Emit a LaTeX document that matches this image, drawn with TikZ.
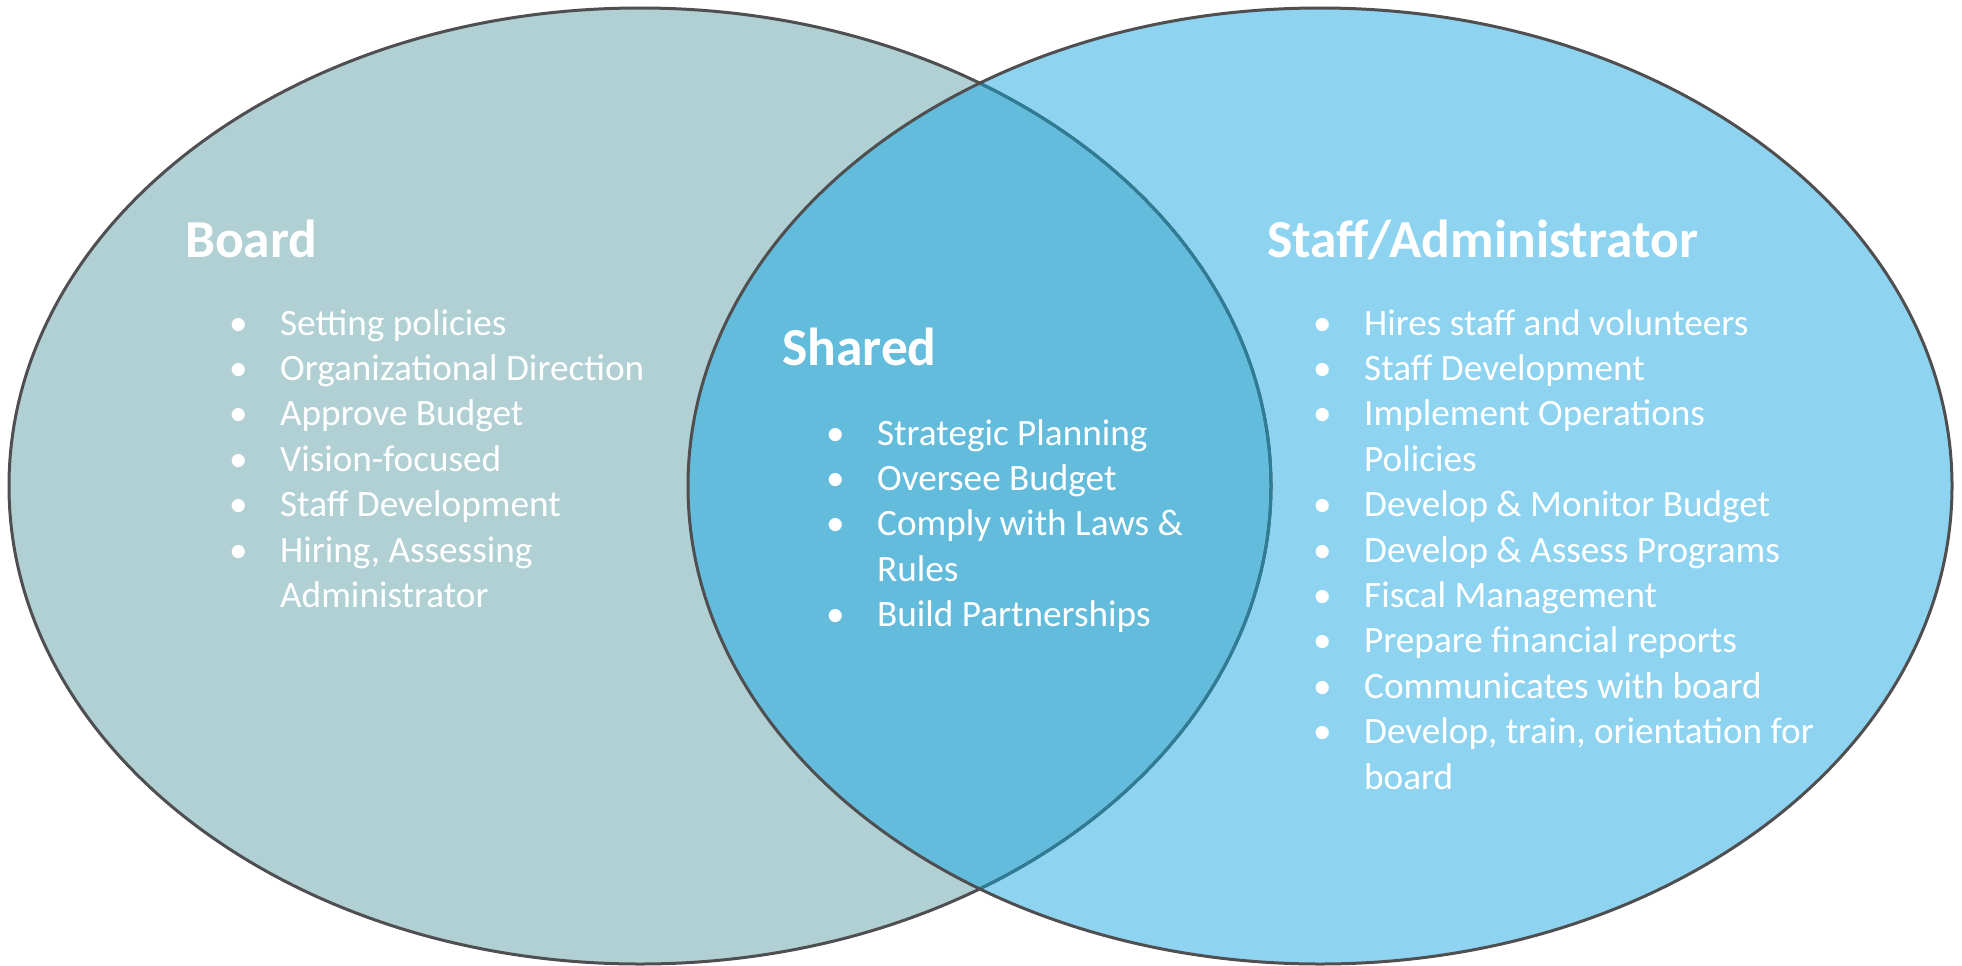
\documentclass[tikz,border=0pt]{standalone}
\usepackage{fontspec}
\setmainfont{Carlito}
\usepackage{array}

\definecolor{boardfill}{HTML}{B1D0D4}
\definecolor{stafffill}{HTML}{8ED4F0}
\definecolor{sharedfill}{HTML}{63BCDB}
\definecolor{rimgray}{HTML}{4F4F51}
\definecolor{rimteal}{HTML}{2E7D96}

\newcommand{\bulletrow}[1]{\textbullet & #1\\}
\newcommand{\wraprow}[1]{& #1\\}
\newenvironment{duties}{\begin{tabular}[t]{@{}p{51pt}@{}l@{}}}{\end{tabular}}

\begin{document}
\begin{tikzpicture}[x=1pt, y=-1pt, every node/.style={text=white, inner sep=0pt, anchor=base west}, heading/.style={font=\fontsize{53.5}{60}\selectfont\bfseries}, duty/.style={font=\fontsize{37.2}{45.4}\selectfont}, rim/.style={line width=3pt, draw=rimgray}]
	\useasboundingbox (0,0) rectangle (1962,966);
	% Circles of the diagram
	\fill[boardfill]	(640,486) ellipse [x radius=631, y radius=478];
	\fill[stafffill]	(1320,486) ellipse [x radius=632, y radius=478];
	\begin{scope}
		\clip (640,486) ellipse [x radius=631, y radius=478];
		\fill[sharedfill] (1320,486) ellipse [x radius=632, y radius=478];
	\end{scope}
	\draw[rim]	(640,486) ellipse [x radius=631, y radius=478];
	\begin{scope}
		\clip (1320,486) ellipse [x radius=632, y radius=478];
		\draw[rim, draw=rimteal] (640,486) ellipse [x radius=631, y radius=478];
	\end{scope}
	\draw[rim]	(1320,486) ellipse [x radius=632, y radius=478];
	% Specification of nodes (position, etc.)
	\node (BoardTitle)	[heading]	at (185,257)	{Board};
	\node (SharedTitle)	[heading]	at (782,365)	{Shared};
	\node (StaffTitle)	[heading]	at (1267,257)	{Staff/Administrator};
	\node (BoardList)	[duty]	at (229,335)	{\begin{duties}
		\bulletrow{Setting policies}
		\bulletrow{Organizational Direction}
		\bulletrow{Approve Budget}
		\bulletrow{Vision-focused}
		\bulletrow{Staff Development}
		\bulletrow{Hiring, Assessing}
		\wraprow{Administrator}
	\end{duties}};
	\node (SharedList)	[duty]	at (826,445)	{\begin{duties}
		\bulletrow{Strategic Planning}
		\bulletrow{Oversee Budget}
		\bulletrow{Comply with Laws \&}
		\wraprow{Rules}
		\bulletrow{Build Partnerships}
	\end{duties}};
	\node (StaffList)	[duty]	at (1313,335)	{\begin{duties}
		\bulletrow{Hires staff and volunteers}
		\bulletrow{Staff Development}
		\bulletrow{Implement Operations}
		\wraprow{Policies}
		\bulletrow{Develop \& Monitor Budget}
		\bulletrow{Develop \& Assess Programs}
		\bulletrow{Fiscal Management}
		\bulletrow{Prepare financial reports}
		\bulletrow{Communicates with board}
		\bulletrow{Develop, train, orientation for}
		\wraprow{board}
	\end{duties}};
\end{tikzpicture}
\end{document}
